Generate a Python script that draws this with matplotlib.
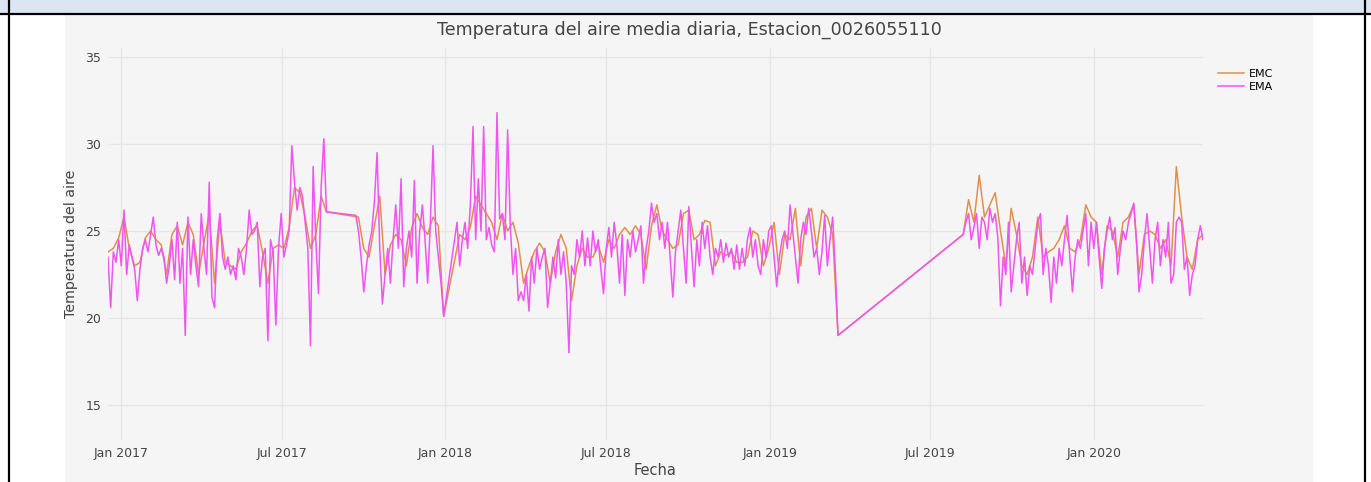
import matplotlib
matplotlib.use('Agg')
import matplotlib.pyplot as plt
import matplotlib.dates as mdates
import pandas as pd
from matplotlib.patches import Rectangle
from matplotlib.lines import Line2D

# EMA series: one value every 3 days, in four runs of data
ema_starts = ['2016-12-17', '2017-09-22', '2018-01-14', '2019-08-07']
ema_1 = [23.5, 20.6, 23.8, 23.2, 24.5, 23.0, 26.2, 22.5, 24.2, 23.5,
         22.8, 21.0, 22.8, 24.0, 24.5, 23.8, 24.8, 25.8, 24.2, 23.6,
         24.0, 23.5, 22.0, 23.0, 24.5, 22.2, 25.5, 22.0, 24.0, 19.0,
         25.8, 22.5, 24.5, 23.0, 21.8, 26.0, 24.0, 22.5, 27.8, 21.2,
         20.6, 24.5, 26.0, 23.5, 22.8, 23.5, 22.5, 23.0, 22.2, 24.0,
         23.5, 22.5, 24.0, 26.2, 24.8, 25.0, 25.5, 21.8, 23.5, 24.0,
         18.7, 24.5, 23.8, 19.6, 24.0, 26.0, 23.5, 24.2, 25.0, 29.9,
         27.8, 26.2, 27.5, 27.0, 25.5, 24.0, 18.4, 28.7, 24.5, 21.4,
         27.5, 30.3, 26.1]
ema_2 = [25.9, 25.0, 23.5, 21.5, 23.0, 24.2, 25.0, 26.7, 29.5, 24.0,
         20.8, 22.5, 24.0, 22.0, 24.5, 26.5, 24.0, 28.0, 21.8, 24.0,
         25.0, 23.5, 27.9, 22.0, 25.0, 26.5, 24.5, 22.0, 25.5, 29.9,
         25.0, 23.5, 22.0, 20.1]
ema_3 = [25.5, 23.0, 24.5, 25.5, 24.0, 26.5, 31.0, 24.5, 28.0, 25.0,
         31.0, 24.5, 25.2, 24.2, 23.8, 31.8, 25.7, 26.0, 24.5, 30.8,
         25.3, 22.5, 24.0, 21.0, 21.5, 21.0, 22.5, 20.4, 23.5, 22.0,
         24.0, 22.8, 23.5, 24.0, 20.6, 22.0, 23.5, 22.3, 24.5, 22.5,
         23.8, 22.0, 18.0, 23.0, 22.5, 24.5, 23.5, 25.0, 23.0, 24.6,
         23.0, 25.0, 23.8, 24.5, 22.8, 21.4, 24.0, 25.2, 23.5, 25.5,
         24.2, 22.0, 24.8, 21.3, 24.5, 23.5, 25.0, 23.8, 24.5, 25.3,
         22.0, 24.0, 25.0, 26.6, 25.5, 26.0, 24.5, 25.5, 24.0, 25.5,
         23.5, 21.2, 23.8, 25.0, 26.2, 24.0, 22.0, 26.4, 24.0, 21.8,
         24.5, 23.0, 25.5, 24.0, 25.3, 23.5, 22.5, 24.0, 23.5, 24.5,
         23.2, 24.3, 23.5, 24.0, 22.8, 24.2, 22.8, 24.0, 23.0, 24.5,
         25.2, 23.5, 24.5, 23.0, 22.5, 24.5, 23.5, 25.0, 25.3, 23.5,
         21.8, 23.5, 24.5, 25.0, 24.0, 26.5, 25.0, 23.5, 22.0, 24.5,
         25.5, 24.8, 26.3, 25.0, 23.5, 24.0, 22.5, 23.8, 25.9, 23.0,
         24.5, 25.8, 22.8, 19.0]
ema_4 = [24.8, 25.5, 26.0, 24.5, 25.2, 26.0, 24.0, 25.8, 25.5, 24.5,
         26.3, 25.5, 26.0, 24.6, 20.7, 23.5, 22.5, 25.5, 21.5, 23.0,
         24.5, 25.5, 22.0, 23.5, 21.3, 23.0, 22.5, 24.0, 25.5, 26.0,
         22.5, 24.0, 23.0, 20.9, 23.5, 22.0, 24.0, 23.0, 24.5, 25.9,
         23.5, 21.5, 23.5, 24.5, 24.0, 25.0, 26.0, 23.0, 25.5, 24.0,
         25.5, 23.5, 21.7, 24.0, 25.0, 25.8, 24.5, 25.2, 22.5, 24.0,
         25.0, 24.5, 25.5, 26.0, 26.6, 24.5, 21.5, 22.5, 24.5, 26.0,
         24.0, 22.0, 24.5, 25.5, 23.0, 24.5, 23.5, 25.5, 22.0, 22.5,
         25.5, 25.8, 25.5, 22.8, 23.5, 21.3, 22.5, 23.0, 24.5, 25.3,
         24.5]

# EMC series: one value every 6 days, in the same runs
emc_starts = ['2016-12-17', '2017-09-25', '2018-01-17', '2019-08-07']
emc_1 = [23.8, 24.0, 24.6, 25.8, 24.0, 23.0, 23.2, 24.6, 25.0, 24.5,
         24.2, 22.5, 24.8, 25.3, 24.2, 25.5, 24.8, 22.5, 24.3, 26.0,
         22.0, 25.5, 23.2, 23.0, 22.8, 23.8, 24.3, 25.0, 25.3, 23.8,
         22.0, 24.0, 24.2, 24.0, 25.2, 27.5, 27.2, 25.8, 24.0, 24.8,
         27.0, 26.1]
emc_2 = [25.8, 24.0, 23.5, 25.3, 27.0, 22.5, 24.2, 24.8, 24.5, 23.0,
         25.2, 26.0, 25.2, 24.8, 25.8, 25.3, 20.1]
emc_3 = [24.8, 24.5, 25.2, 27.0, 26.5, 26.0, 25.5, 24.5, 26.0, 25.0,
         25.5, 24.3, 22.0, 23.0, 23.8, 24.3, 23.8, 22.0, 23.8, 24.8,
         24.0, 21.0, 23.0, 24.0, 23.5, 23.5, 24.2, 23.2, 24.5, 24.0,
         24.8, 25.2, 24.8, 25.3, 24.8, 22.8, 25.3, 26.5, 25.0, 24.5,
         24.0, 24.2, 26.0, 26.2, 24.5, 24.8, 25.6, 25.5, 23.0, 23.8,
         23.6, 23.8, 23.2, 23.2, 23.5, 25.0, 24.8, 23.0, 24.0, 25.5,
         22.5, 24.8, 24.5, 26.3, 23.0, 25.8, 26.3, 24.0, 26.2, 25.8,
         24.8, 19.0]
emc_4 = [24.8, 26.8, 25.5, 28.2, 25.8, 26.5, 27.2, 25.0, 23.0, 26.3,
         24.8, 23.0, 22.5, 23.5, 25.8, 23.5, 23.8, 24.0, 24.5, 25.3,
         24.0, 23.8, 24.5, 26.5, 25.8, 25.5, 22.5, 25.3, 25.0, 23.5,
         25.5, 25.8, 26.5, 22.5, 24.8, 25.0, 24.8, 24.0, 24.5, 23.0,
         28.7, 25.8, 23.5, 22.8, 24.5, 24.8]


def build(starts, runs, step):
    parts = [pd.Series(v, index=pd.date_range(s, periods=len(v), freq=step))
             for s, v in zip(starts, runs)]
    return pd.concat(parts)


ema = build(ema_starts, [ema_1, ema_2, ema_3, ema_4], '3D')
emc = build(emc_starts, [emc_1, emc_2, emc_3, emc_4], '6D')

W, H = 1371, 482
fig = plt.figure(figsize=(W / 100, H / 100), dpi=100)
fig.patch.set_facecolor('white')

# document frame around the chart (kept behind the axes)
fig.patches.append(Rectangle((0, 1 - 13 / H), 1, 13 / H, transform=fig.transFigure,
                             facecolor='#dce6f2', edgecolor='none', zorder=-5))
fig.patches.append(Rectangle((65 / W, 0), 1248 / W, (H - 15) / H, transform=fig.transFigure,
                             facecolor='#f5f5f5', edgecolor='none', zorder=-5))
fig.lines.append(Line2D([0, 1], [1 - 13.5 / H] * 2, transform=fig.transFigure,
                        color='black', lw=1.6, zorder=-4))
fig.lines.append(Line2D([8.5 / W] * 2, [0, 1], transform=fig.transFigure,
                        color='black', lw=1.6, zorder=-4))
fig.lines.append(Line2D([1365 / W] * 2, [0, 1], transform=fig.transFigure,
                        color='black', lw=1.6, zorder=-4))

ax_top, ax_bot = 48.3, 439.8
ax = fig.add_axes([108 / W, 1 - ax_bot / H, (1203 - 108) / W, (ax_bot - ax_top) / H])
ax.set_facecolor('#f5f5f5')

ax.plot(emc.index, emc.values, color='#e0904a', lw=1.1, label='EMC')
ax.plot(ema.index, ema.values, color='#f055f0', lw=1.1, label='EMA')

ax.set_xlim(ema.index[0], ema.index[-1])
ax.set_ylim(13, 35.5)
ax.set_yticks([15, 20, 25, 30, 35])
ax.xaxis.set_major_locator(mdates.MonthLocator(bymonth=[1, 7]))
ax.xaxis.set_major_formatter(mdates.DateFormatter('%b %Y'))
ax.grid(True, color='#e6e6e6', lw=1)
ax.set_axisbelow(True)
for s in ax.spines.values():
    s.set_visible(False)
ax.tick_params(length=0, labelsize=9, colors='#444444', pad=5)

ax.set_xlabel('Fecha', fontsize=10.5, color='#444444', labelpad=2)
ax.set_ylabel('Temperatura del aire', fontsize=10.2, color='#444444', labelpad=5)
fig.text(689 / W, 1 - 30 / H, 'Temperatura del aire media diaria, Estacion_0026055110',
         ha='center', va='center', fontsize=12.6, color='#444444')

ax.legend(loc='upper left', bbox_to_anchor=(1212 / W, 1 - 63 / H),
          bbox_transform=fig.transFigure, frameon=False, fontsize=8,
          handlelength=2.4, handletextpad=0.4, labelspacing=0.3, borderpad=0)

fig.savefig('out.png', dpi=100)
